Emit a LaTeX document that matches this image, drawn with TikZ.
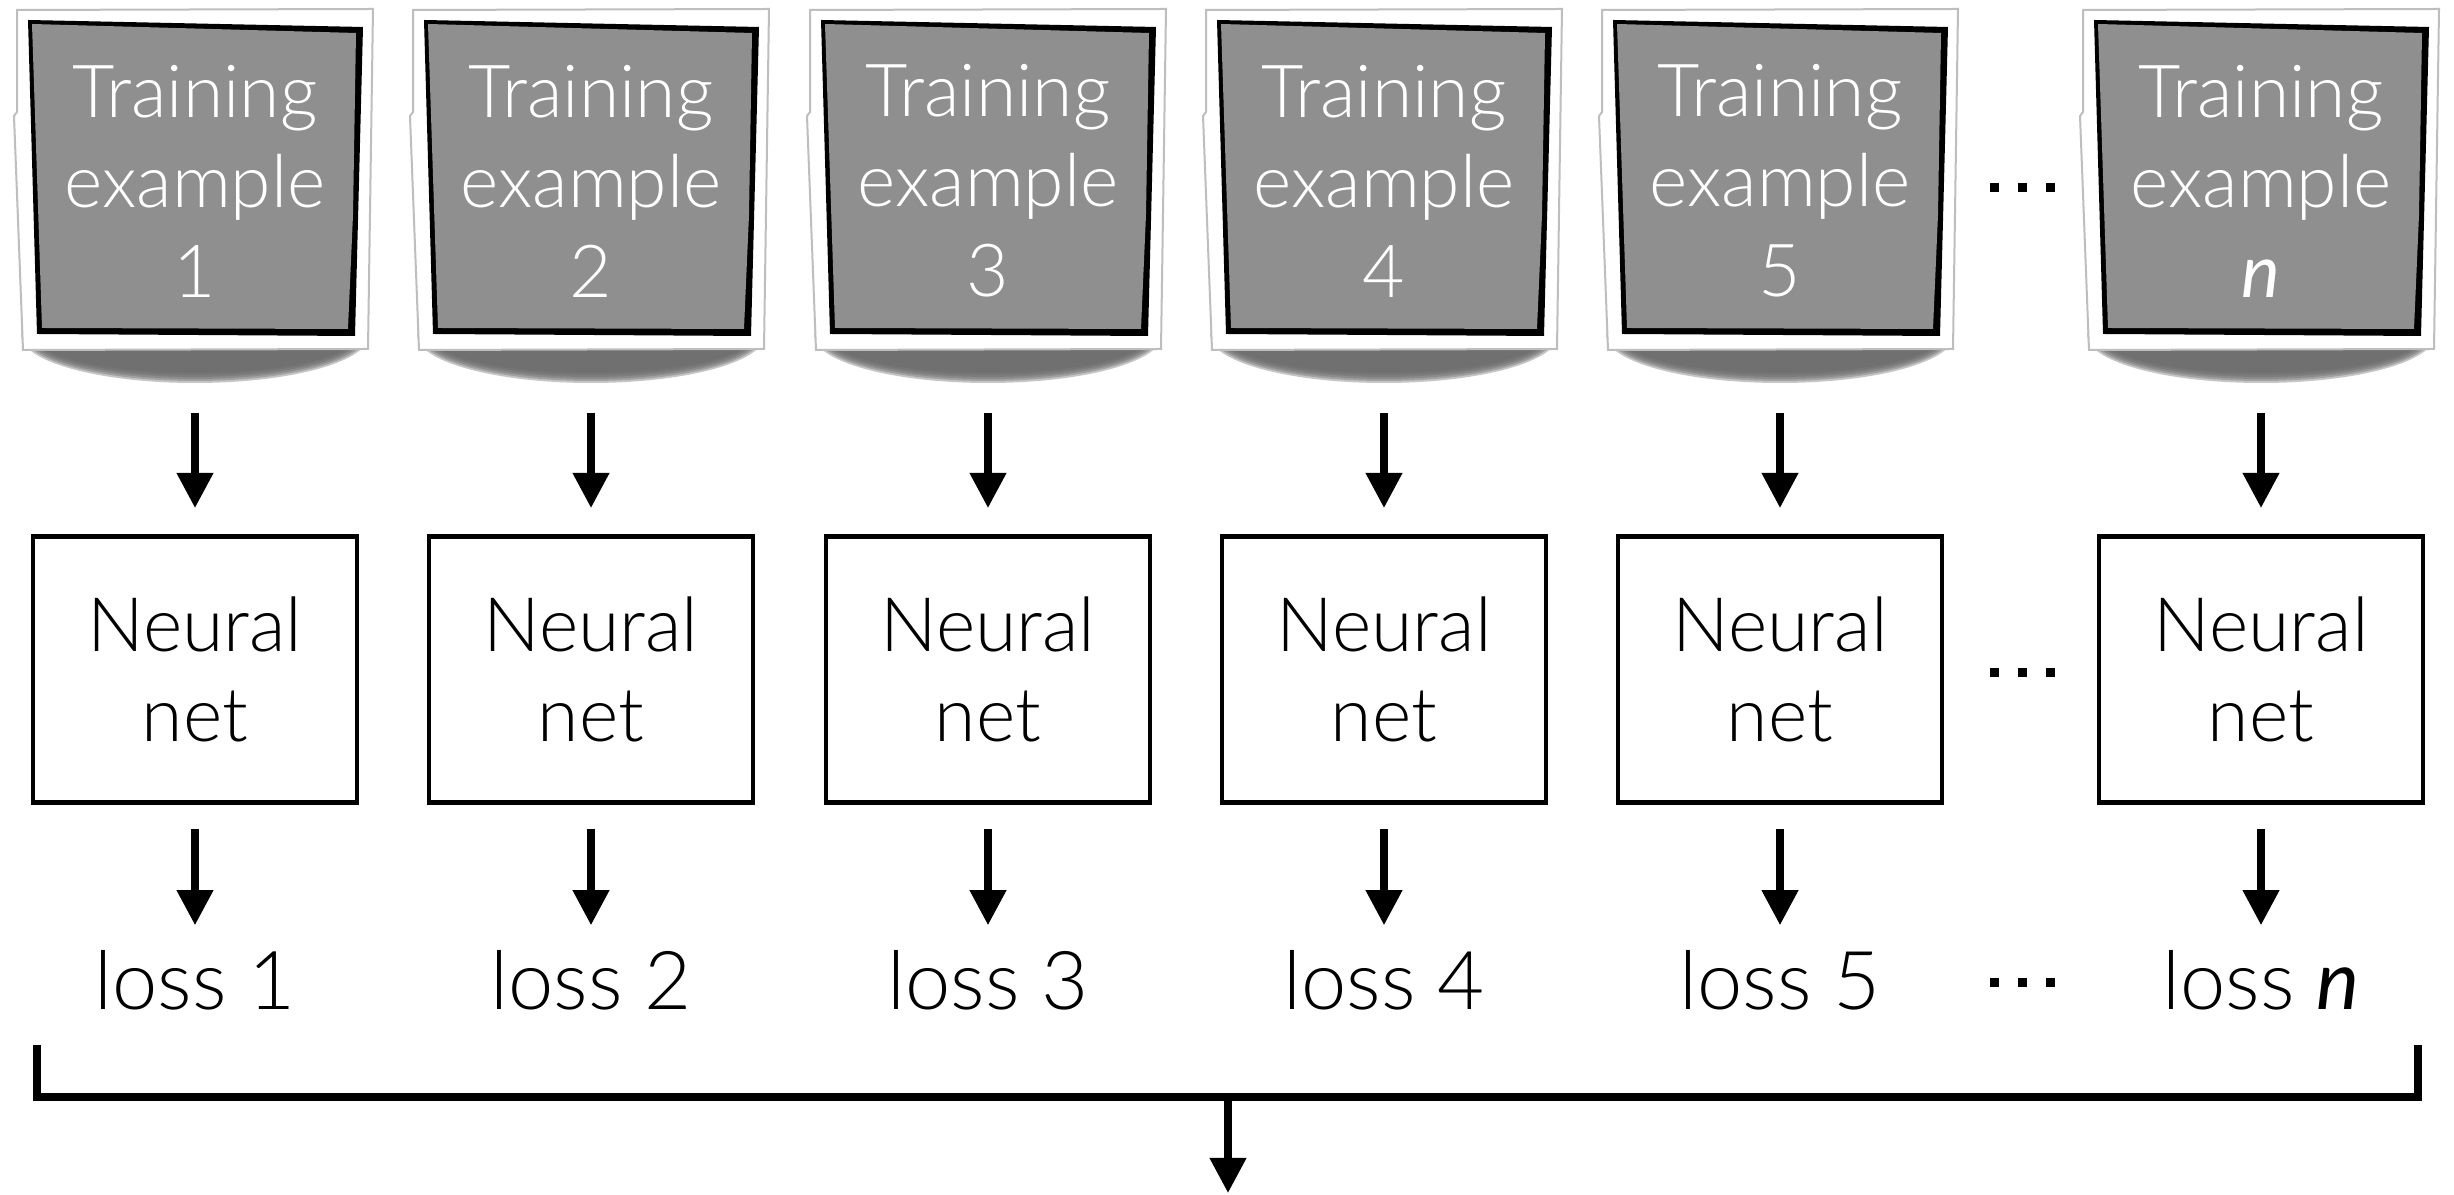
\documentclass[tikz,border=0pt]{standalone}
\usepackage{fontspec}
\setmainfont{Lato}[UprightFont=* Light, ItalicFont=* Italic]
\usetikzlibrary{arrows.meta}

\definecolor{photogray}{RGB}{143,143,143}
\definecolor{framegray}{RGB}{190,190,190}
\definecolor{shadowgray}{RGB}{104,104,104}

\tikzset{
  card/.style={minimum width=89pt, minimum height=93pt, inner sep=0pt},
  cardtext/.style={text=white, align=center, inner sep=0pt,
    font=\fontsize{18.3}{22.5}\selectfont},
  netbox/.style={draw, line width=1.1pt, minimum width=81.1pt,
    minimum height=66.5pt, inner sep=0pt, align=center,
    font=\fontsize{18.8}{22.5}\selectfont},
  losslabel/.style={inner sep=0pt, text height=15pt, text depth=0pt,
    anchor=base, font=\fontsize{20.3}{24}\selectfont},
  flow/.style={line width=1.8pt, -{Triangle[length=8.75pt, width=8.75pt]}},
  bracket/.style={line width=1.9pt},
  trio/.pic={
    \foreach \d in {-28,0,28}
      \fill (\d-4.5,-4.5) rectangle (\d+4.5,4.5);
  }
}

\begin{document}
\begin{tikzpicture}[x=0.25pt, y=-0.25pt]
  \useasboundingbox[fill=white] (0,0) rectangle (2454,1195);

  \foreach \cx/\lab/\id in {195/1/1, 591/2/2, 988/3/3, 1384/4/4, 1780/5/5,
                            2261/{\textit{n}}/n} {
    % curled-paper shadow under the card
    \foreach \k in {0,...,5}
      \fill[shadowgray, opacity=0.38]
        (\cx,335) ellipse [x radius={(43.5-0.6*\k)*1pt}, y radius={(12-0.5*\k)*1pt}];
    % white mount with its light outline
    \filldraw[fill=white, draw=framegray, line width=0.5pt]
      (\cx-178,10) -- (\cx+178,9) -- (\cx+173,349) -- (\cx-172,350)
      -- (\cx-181,116) -- (\cx-178,112) -- cycle;
    % picture with a rough black edge
    \fill[black] (\cx-167,20) -- (\cx+168,27) -- (\cx+160,336) -- (\cx-158,334) -- cycle;
    \fill[photogray] (\cx-163,24) -- (\cx+161,33) -- (\cx+158,215)
      -- (\cx+153,329) -- (\cx-153,328) -- cycle;
    \node[card] (ex\id) at (\cx,195) {};
    \node[cardtext] (ex\id txt) at (\cx,181) {Training\\example\\\lab};

    \node[netbox] (nn\id) at (\cx,669.6) {Neural\\net};
    \node[losslabel] (loss\id) at (\cx,1010) {loss \lab};

    \draw[flow, shorten <=7.75pt, shorten >=6.6pt] (ex\id.south) -- (nn\id.north);
    \draw[flow, shorten <=6pt, shorten >=6pt] (nn\id.south) -- (loss\id.north);
  }

  % ellipses between the fifth column and the last one
  \pic (dotsTop) at (2022,188) {trio};
  \pic (dotsMid) at (2022,673) {trio};
  \pic (dotsLow) at (2022,983) {trio};

  % bracket collecting all losses
  \coordinate (bl) at (37,1045);
  \coordinate (br) at (2418,1045);
  \coordinate (bm) at (1228,1097);
  \coordinate (sum) at (1228,1193);
  \draw[bracket] (bl) |- (bm) -| (br);
  \draw[flow] (bm) -- (sum);
\end{tikzpicture}
\end{document}
